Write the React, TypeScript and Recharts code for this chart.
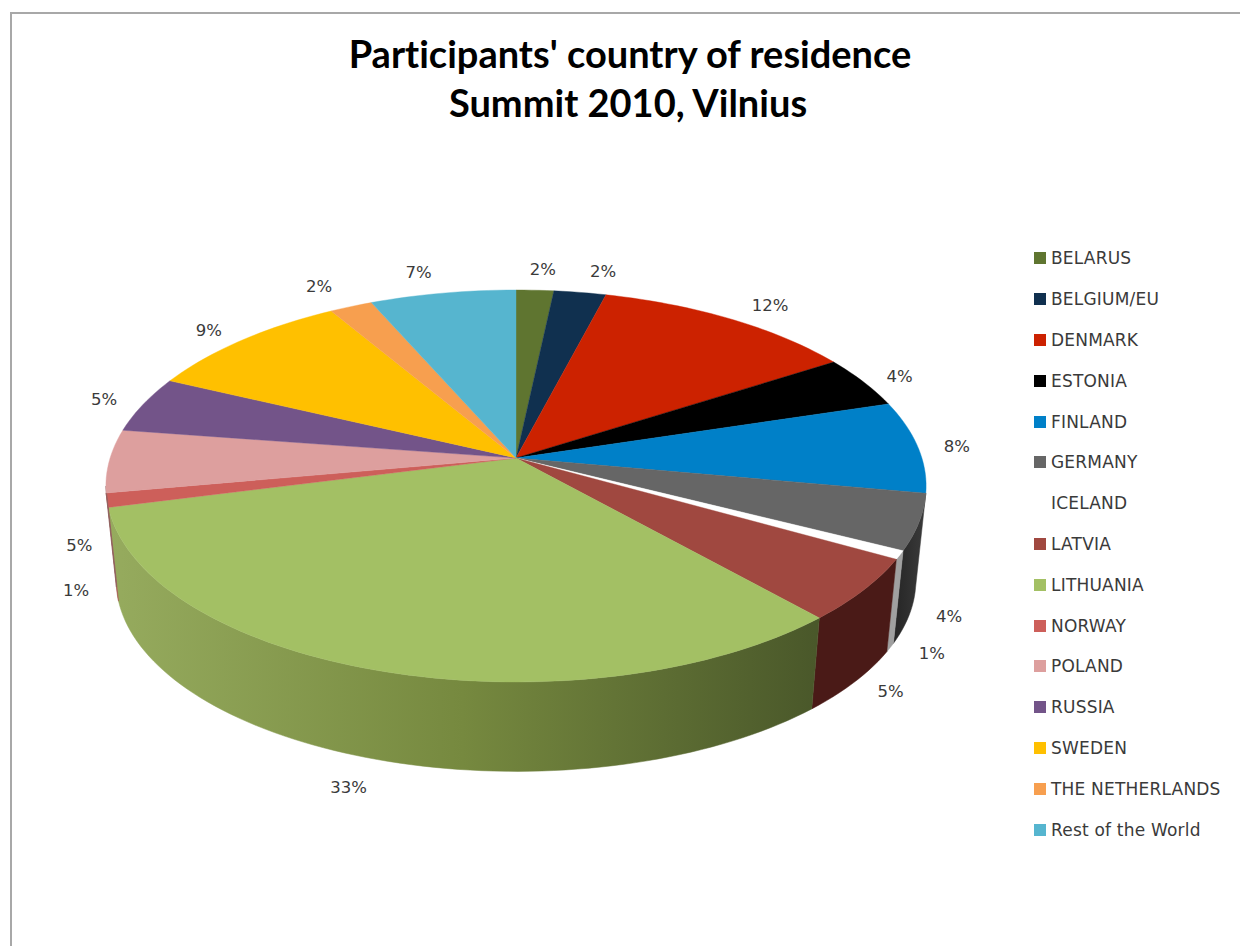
import { PieChart, Pie, Legend } from "recharts";

const countries = [
  "BELARUS",
  "BELGIUM/EU",
  "DENMARK",
  "ESTONIA",
  "FINLAND",
  "GERMANY",
  "ICELAND",
  "LATVIA",
  "LITHUANIA",
  "NORWAY",
  "POLAND",
  "RUSSIA",
  "SWEDEN",
  "THE NETHERLANDS",
  "Rest of the World",
];
// slice sizes, printed percentages are kept apart
const shares = [1.7, 2.36, 11.9, 4.3, 7.6, 4.6, 0.7, 5.2, 32.65, 1.15, 5.2, 4.65, 9.45, 1.94, 6.6];
const printed = [2, 2, 12, 4, 8, 4, 1, 5, 33, 1, 5, 5, 9, 2, 7];

const topColors = [
  "#5f7530", "#10304f", "#cc2200", "#000000", "#0080c8",
  "#666666", "#ffffff", "#a04840", "#a3c064", "#cd5f5a",
  "#dd9f9e", "#735489", "#ffc000", "#f79f4f", "#56b5cf",
];
const wallColors = [
  "#3c4a1f", "#0a1f33", "#801500", "#000000", "#004f7c",
  "url(#germanyWall)", "#a0a0a0", "#4a1a17", "url(#lithuaniaWall)", "#a5574f",
  "#8a6262", "#483455", "#a07800", "#9c6431", "#36717f",
];
// label distance from the rim, in px
const labelNudge = [
  [8, -21], [23, -21], [40, -13], [36, -6], [39, 0],
  [30, 94], [32, 98], [27, 102], [-31, 117], [-31, 90],
  [-30, 85], [-39, -5], [-33, -10], [-32, -20], [-24, -21],
];

const rows = countries.map((name, i) => ({
  name,
  value: shares[i],
  fill: topColors[i],
  wall: wallColors[i],
  printed: printed[i],
  nudge: labelNudge[i],
}));

// perspective of the tilted disc
const TILT = 0.1428;
const SQUASH = 192 / 410;
const WIDEN = 0.99;
const DEPTH = 95;
const BOTTOM_SCALE = 0.975;

const FONT = "'DejaVu Sans', sans-serif";

function project(cx: number, cy: number, r: number, deg: number, scale = 1) {
  const a = (deg * Math.PI) / 180;
  const u = Math.cos(a);
  const v = Math.sin(a);
  const den = 1 + TILT * v;
  return {
    x: cx + (scale * WIDEN * r * u) / den,
    y: cy - (scale * SQUASH * r * v) / den,
  };
}

function arc(cx: number, cy: number, r: number, from: number, to: number, scale = 1) {
  const n = Math.max(2, Math.ceil(Math.abs(to - from) / 1.5));
  const pts = [];
  for (let i = 0; i <= n; i++) {
    const p = project(cx, cy, r, from + ((to - from) * i) / n, scale);
    pts.push(`${p.x.toFixed(2)} ${p.y.toFixed(2)}`);
  }
  return pts;
}

// front half only: the wall is hidden where sin(angle) > -TILT
const HORIZON = (Math.asin(TILT) * 180) / Math.PI;

function wallRange(start: number, end: number) {
  // angles run clockwise, so start > end; bring them to the -360..0 window
  let hi = start;
  let lo = end;
  while (hi > 0) {
    hi -= 360;
    lo -= 360;
  }
  const a = Math.min(hi, -HORIZON);
  const b = Math.max(lo, -180 + HORIZON);
  return a > b ? [a, b] : null;
}

function Slice3D(props: any) {
  const { cx, cy, outerRadius, startAngle, endAngle, fill, payload } = props;
  const top = arc(cx, cy, outerRadius, startAngle, endAngle);
  const range = wallRange(startAngle, endAngle);
  let wall = null;
  if (range) {
    const upper = arc(cx, cy, outerRadius, range[0], range[1]);
    const lower = arc(cx, cy + DEPTH, outerRadius, range[1], range[0], BOTTOM_SCALE);
    wall = (
      <path
        d={`M${[...upper, ...lower].join("L")}Z`}
        fill={payload.wall}
        stroke={payload.wall}
        strokeWidth={0.5}
      />
    );
  }
  return (
    <g>
      {wall}
      <path
        d={`M${cx} ${cy}L${top.join("L")}Z`}
        fill={fill}
        stroke={fill}
        strokeWidth={0.4}
      />
    </g>
  );
}

function sliceLabel(props: any) {
  const { cx, cy, outerRadius, midAngle, payload } = props;
  const rim = project(cx, cy, outerRadius, midAngle);
  return (
    <text
      x={rim.x + payload.nudge[0]}
      y={rim.y + payload.nudge[1]}
      textAnchor="middle"
      dominantBaseline="central"
      fontFamily={FONT}
      fontSize={16.5}
      fill="#3a3a3a"
    >
      {payload.printed}%
    </text>
  );
}

function SideLegend({ payload }: any) {
  return (
    <div style={{ fontFamily: FONT, fontSize: 17, letterSpacing: 0.2, color: "#3a3a3a" }}>
      {(payload || []).map((item: any) => (
        <div key={item.value} style={{ display: "flex", alignItems: "center", height: 40.8 }}>
          <span style={{ width: 12, height: 12, marginRight: 5, background: item.color }} />
          <span style={{ whiteSpace: "nowrap" }}>{item.value}</span>
        </div>
      ))}
    </div>
  );
}

export default function App() {
  return (
    <div style={{ position: "absolute", left: 0, top: 0, width: 1240, height: 946, overflow: "hidden", background: "#fff" }}>
      <div
        style={{
          position: "absolute",
          left: 10,
          top: 12,
          right: 0,
          bottom: 0,
          borderTop: "2px solid #a8a8a8",
          borderLeft: "2px solid #a8a8a8",
        }}
      />
      <PieChart
        width={1240}
        height={946}
        margin={{ top: 0, right: 0, bottom: 0, left: 0 }}
        style={{ position: "absolute", left: 0, top: 0 }}
      >
        <defs>
          <linearGradient id="lithuaniaWall" gradientUnits="userSpaceOnUse" x1="110" y1="0" x2="815" y2="0">
            <stop offset="0%" stopColor="#96ab5e" />
            <stop offset="50%" stopColor="#76893f" />
            <stop offset="100%" stopColor="#4a582a" />
          </linearGradient>
          <linearGradient id="germanyWall" gradientUnits="userSpaceOnUse" x1="895" y1="0" x2="925" y2="0">
            <stop offset="0%" stopColor="#262626" />
            <stop offset="100%" stopColor="#3a3a3a" />
          </linearGradient>
        </defs>
        <text
          x={630}
          textAnchor="middle"
          fontFamily="Lato, sans-serif"
          fontWeight={700}
          fontSize={38}
          fill="#000"
          style={{ fontVariantLigatures: "none" }}
        >
          <tspan x={630} y={68}>Participants' country of residence</tspan>
          <tspan x={628} y={117}>Summit 2010, Vilnius</tspan>
        </text>
        <Pie
          data={rows}
          dataKey="value"
          nameKey="name"
          cx={516}
          cy={458}
          innerRadius={0}
          outerRadius={410}
          startAngle={90}
          endAngle={-270}
          stroke="none"
          shape={Slice3D}
          label={sliceLabel}
          labelLine={false}
          isAnimationActive={false}
        />
        <Legend
          layout="vertical"
          itemSorter={null}
          content={<SideLegend />}
          wrapperStyle={{ left: 1034, top: 238, width: 206 }}
        />
      </PieChart>
    </div>
  );
}
